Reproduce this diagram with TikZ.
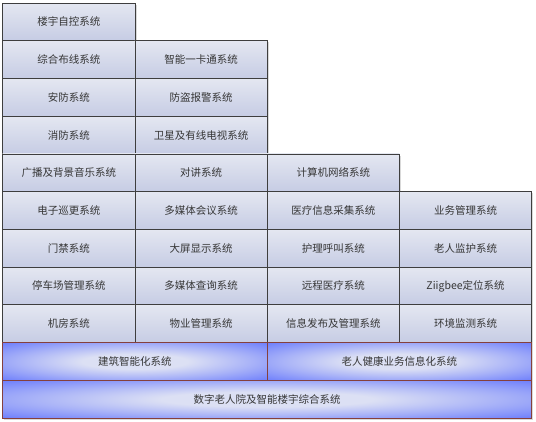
\documentclass[tikz,border=0pt]{standalone}
\usepackage{fontspec}
\setmainfont{Noto Sans CJK SC}
\usetikzlibrary{
  matrix,
  positioning,
  shadows}
\definecolor{boxtop}{HTML}{E4E7F1}
\definecolor{boxbot}{HTML}{C6CCE4}
\definecolor{boxline}{HTML}{3E3E3E}
\definecolor{barlight}{HTML}{DCE0F4}
\definecolor{barblue}{HTML}{6B7CFC}
\definecolor{barline}{HTML}{85403C}
\definecolor{txtgrey}{HTML}{363636}
\pgfdeclareradialshading{barshade}{\pgfpoint{0bp}{0bp}}{%
  color(0bp)=(barlight); color(10bp)=(barlight);
  color(22bp)=(barlight!55!barblue);
  color(36bp)=(barblue); color(50bp)=(barblue)}

\begin{document}
\begin{tikzpicture}[
  x=1pt, y=1pt,
  every node/.style={font=\fontsize{10.5pt}{12pt}\selectfont,text=txtgrey},
  sysbox/.style={draw=boxline,line width=0.8pt,top color=boxtop,bottom color=boxbot,
    minimum width=132.25pt,minimum height=37.73pt,inner sep=0pt,outer sep=0pt,anchor=center,
    general shadow={fill=black!15,shadow xshift=1.6pt,shadow yshift=-1.6pt}},
  barbox/.style={draw=barline,line width=0.9pt,shading=barshade,
    minimum height=37.73pt,inner sep=0pt,outer sep=0pt,
    general shadow={fill=black!15,shadow xshift=1.6pt,shadow yshift=-1.6pt}},
  ampersand replacement=\&
]%
  \useasboundingbox (0,0) rectangle (536,-422);

  \matrix (mG) [matrix of nodes,nodes={sysbox},column sep=-0.8pt,row sep=-0.8pt,
    inner sep=0pt,outer sep=0pt,anchor=north west] at (2.3,-2.6)
  {
    楼宇自控系统       \&                    \&                  \&                 \\
    综合布线系统       \& 智能一卡通系统     \&                  \&                 \\
    安防系统           \& 防盗报警系统       \&                  \&                 \\
    消防系统           \& 卫星及有线电视系统 \&                  \&                 \\
    广播及背景音乐系统 \& 对讲系统           \& 计算机网络系统   \&                 \\
    电子巡更系统       \& 多媒体会议系统     \& 医疗信息采集系统 \& 业务管理系统    \\
    门禁系统           \& 大屏显示系统       \& 护理呼叫系统     \& 老人监护系统    \\
    停车场管理系统     \& 多媒体查询系统     \& 远程医疗系统     \& Ziigbee定位系统 \\
    机房系统           \& 物业管理系统       \& 信息发布及管理系统 \& 环境监测系统  \\
  };

  \node[barbox,minimum width=264.5pt,anchor=north west] (bA) at (mG-9-1.south west) {建筑智能化系统};
  \node[barbox,minimum width=264.5pt,right=0pt of bA] (bB) {老人健康业务信息化系统};
  \node[barbox,minimum width=529pt,anchor=north west] (bC) at (bA.south west) {数字老人院及智能楼宇综合系统};

\end{tikzpicture}
\end{document}
